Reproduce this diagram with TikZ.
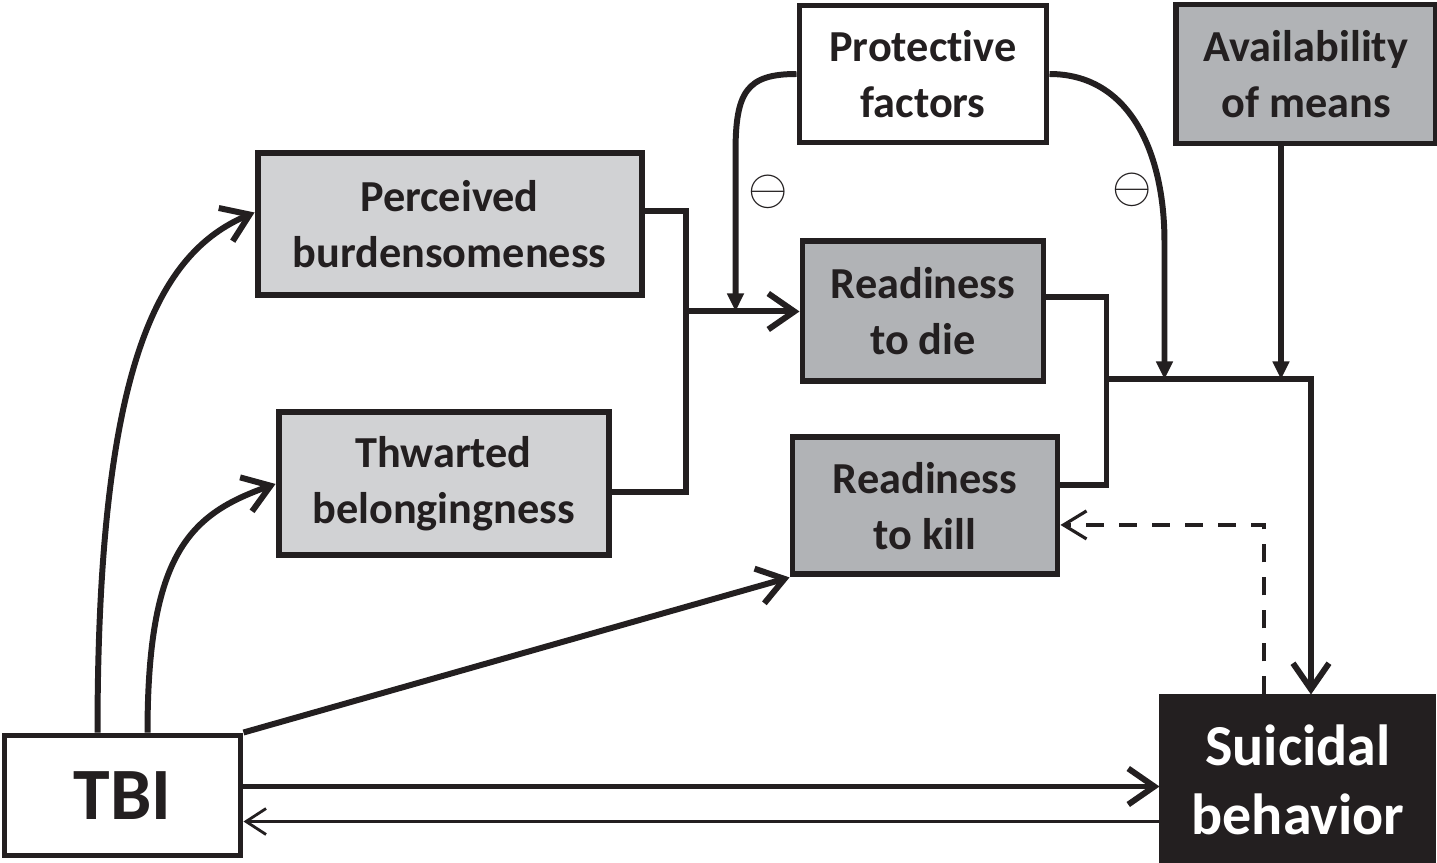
\documentclass[tikz,border=0pt]{standalone}
\usepackage{fontspec}
\setmainfont{Carlito}[Ligatures={NoCommon,NoRare}]
\usetikzlibrary{arrows.meta,positioning,calc}
\definecolor{ink}{HTML}{231F20}
\definecolor{boxlight}{HTML}{D1D2D4}
\definecolor{boxmid}{HTML}{B1B3B6}

\begin{document}
\begin{tikzpicture}[line width=1.7pt,color=ink,>={Straight Barb[length=2.6mm,width=3.6mm]},
	tri/.tip={Triangle[length=1.8mm,width=1.6mm]},
	box/.style={draw=ink,rectangle,align=center,inner sep=0pt,text=ink,
		font=\bfseries\fontsize{12.6}{15.9}\selectfont},
	plain/.style={box,fill=white},
	light/.style={box,fill=boxlight},
	mid/.style={box,fill=boxmid},
	backarrow/.style={line width=0.8pt,-{Straight Barb[length=2mm,width=2.6mm]}},
	feedback/.style={line width=0.9pt,dash pattern=on 1.8mm off 1.5mm,-{Straight Barb[length=2.3mm,width=2.8mm]}},
	minus/.style={inner sep=0pt,font=\fontsize{15}{17}\selectfont}]
	\useasboundingbox (0,0) rectangle (14.37,8.62);
	
	\node[plain,minimum width=2.47cm,minimum height=1.37cm] (prot) at (9.23,7.88) {Protective\\factors};
	\node[mid,minimum width=2.59cm,minimum height=1.39cm] (avail) [right=1.24cm of prot] {Availability\\of means};
	\node[mid,minimum width=2.41cm,minimum height=1.40cm] (rdie) [below=0.93cm of prot] {Readiness\\to die};
	\node[mid,minimum width=2.65cm,minimum height=1.37cm] (rkill) [below=0.50cm of rdie,xshift=0.02cm] {Readiness\\to kill};
	\node[light,minimum width=3.84cm,minimum height=1.42cm] (perc) [below left=0.05cm and 1.52cm of prot.south west] {Perceived\\burdensomeness};
	\node[light,minimum width=3.30cm,minimum height=1.43cm] (thw) [below=1.11cm of perc,xshift=-0.06cm] {Thwarted\\belongingness};
	\node[plain,minimum width=2.36cm,minimum height=1.20cm,font=\bfseries\fontsize{21}{25}\selectfont] (tbi) at (1.225,0.665) {TBI};
	\node[box,fill=ink,text=white,minimum width=2.71cm,minimum height=1.65cm,font=\bfseries\fontsize{16.5}{19.6}\selectfont] (sb) [below=5.48cm of avail,xshift=-0.08cm] {Suicidal\\behavior};
	
	% TBI to the interpersonal factors and to readiness to kill
	\draw[->] ([xshift=0.96cm]tbi.north west) .. controls +(0,3.7) and +(-0.95,-0.4) .. ([yshift=0.12cm]perc.west);
	\draw[->] ([xshift=1.46cm]tbi.north west) .. controls +(0,1.8) and +(-0.85,-0.3) .. (thw.west);
	\draw[->] (tbi.north east) -- (rkill.south west);
	
	% TBI <-> suicidal behavior
	\coordinate (tA) at ([yshift=0.09cm]tbi.east);
	\coordinate (tB) at ([yshift=-0.26cm]tbi.east);
	\draw[->] (tA) -- (tA -| sb.west);
	\draw[backarrow] (tB -| sb.west) -- (tB);
	
	% collecting line into readiness to die
	\coordinate[left=1.14cm of rdie.west] (jL);
	\draw ([yshift=0.13cm]perc.east) -| (jL) |- ([yshift=-0.08cm]thw.east);
	\draw[->] (jL) -- (rdie.west);
	
	% protective factors
	\coordinate[right=0.5cm of jL] (jP);
	\draw[-tri] (prot.west) .. controls +(-0.5,0) and +(0,0.6) .. (jP |- 0,7.1) -- (jP);
	\node[minus] (m1) at (7.68,6.70) {$\ominus$};
	
	% readiness to die / kill into suicidal behavior
	\coordinate (jM) at ($(rdie.east)+(0.6,-0.68)$);
	\draw ([yshift=0.14cm]rdie.east) -| (jM) |- ([yshift=0.21cm]rkill.east);
	\draw[->] (jM) -| ([xshift=0.13cm]sb.north);
	
	\coordinate[right=0.58cm of jM] (jR);
	\draw[-tri] (prot.east) .. controls +(0.8,0) and +(0,0.9) .. (jR |- 0,6.2) -- (jR);
	\node[minus] (m2) at (11.32,6.72) {$\ominus$};
	
	\coordinate (aS) at ([xshift=-0.25cm]avail.south);
	\draw[-tri] (aS) -- (aS |- jM);
	
	% feedback
	\coordinate (sD) at ([xshift=-0.34cm]sb.north);
	\draw[feedback] (sD) |- ([yshift=-0.19cm]rkill.east);
\end{tikzpicture}
\end{document}
